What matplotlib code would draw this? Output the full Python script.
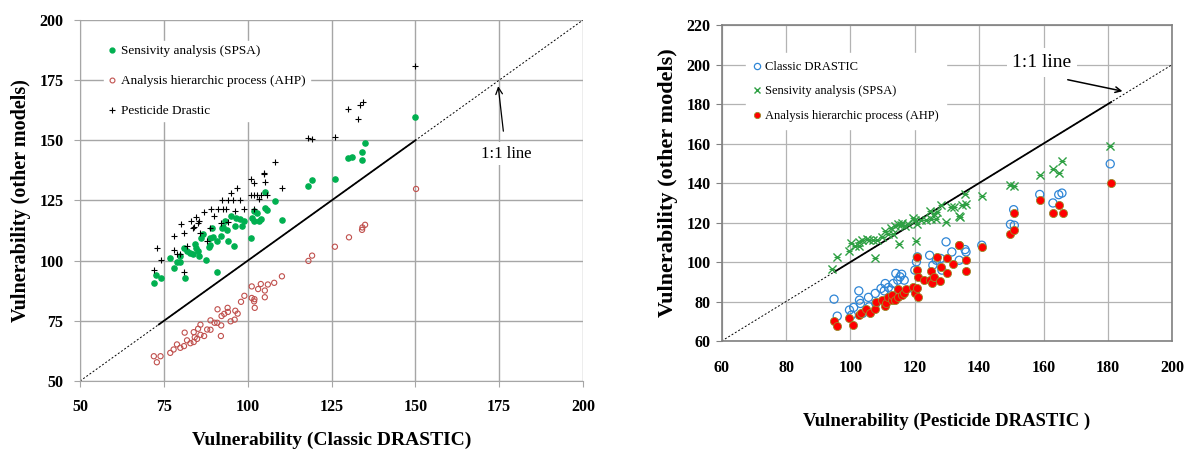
import matplotlib.pyplot as plt
from matplotlib.lines import Line2D

plt.rcParams['font.family'] = ['Liberation Serif', 'DejaVu Serif']

# ---- left panel: other models vs Classic DRASTIC ----
spsa_l_x = [72, 72.7, 74, 76.9, 77.9, 78.9, 79.9, 79.9, 80.9, 81.2, 81.9, 82.7, 83.7, 84.2, 84.7,
            85.2, 85.5, 86.2, 86.7, 87.7, 88.4, 88.9, 89.2, 88.9, 89.7, 90.9, 90.9, 92, 92.2, 92.7,
            93.2, 93.9, 94.1, 95, 96, 96.2, 96.5, 97.7, 98.2, 98.9, 101.1, 101.2, 102, 102, 102.7,
            103.5, 104, 105.1, 105.1, 105.7, 108, 110.2, 118, 119.2, 126, 130, 131, 134, 134, 135, 150]
spsa_l_y = [90.7, 94, 92.6, 101, 97.1, 99.3, 99.3, 102, 105.2, 92.6, 104.2, 103.3, 102.6, 107, 105.4,
            104, 102, 109.3, 111, 100.3, 105.8, 109.3, 113.5, 106.5, 109.7, 95.4, 108, 110.4, 113.5, 113.8,
            116.3, 112.8, 108, 118.7, 106.3, 114.2, 117.7, 117.4, 114.6, 116.3, 109.6, 117.7, 120.5, 116.3, 119.8,
            116.6, 117.4, 128.6, 121.9, 121.2, 124.7, 116.7, 130.9, 133.4, 134.1, 142.5, 143, 142, 145, 149, 159.5]

ahp_l_x = [72, 72.9, 74, 76.9, 77.9, 78.9, 79.9, 81, 81.2, 81.9, 82.9, 83.9, 83.9, 84.2, 84.9,
           85.2, 85.9, 85.9, 87, 87.9, 88.9, 88.9, 90.1, 90.9, 92, 92.1, 92.2, 91, 93, 94,
           94.1, 94.9, 96.1, 96.3, 97, 98, 99, 101.2, 101.2, 101.9, 102.1, 102, 103.1, 103.9, 105.1,
           105.1, 106, 107.9, 110.2, 118.1, 119.2, 126, 130.2, 134.1, 134.2, 135, 150.2]
ahp_l_y = [60.3, 57.8, 60.3, 61.7, 63.1, 65.2, 63.8, 64.5, 70.1, 66.9, 65.7, 70.3, 66.2, 68.2, 67.5,
           71.7, 73.4, 69.2, 68.7, 71.4, 75.2, 71.3, 74.2, 74.2, 68.7, 73.1, 77, 79.8, 77.9, 80.4,
           78.7, 74.8, 75.5, 79.2, 78, 82.9, 85.4, 89.3, 84.5, 83.1, 80.4, 84, 88.2, 90.3, 87.6,
           84.8, 90.1, 90.8, 93.5, 99.9, 102.1, 105.8, 109.7, 112.8, 113.8, 114.9, 129.8]

pest_l_x = [72, 72.9, 74, 78, 78, 78.9, 79.9, 80, 81, 81, 82, 83, 83.7, 84, 84.7, 85.2, 85.5,
            85.9, 87, 88, 88.7, 89, 90, 91, 92, 92.2, 92.7, 93.5, 94.1, 94.2, 94.9, 95.7, 96.2,
            96.9, 97.7, 98.9, 100.9, 101.1, 101.9, 102, 102, 102.9, 103.5, 104, 104.9, 105.1, 105.9,
            105, 108, 110.2, 118.1, 119.2, 126, 130, 133, 133.5, 134.5, 150]
pest_l_y = [96.2, 105.4, 100.1, 110.2, 104.3, 102.9, 102.9, 115.2, 95.1, 111.3, 106.3, 116.6, 113.5,
            113.8, 118, 115.6, 116.3, 111.7, 120.2, 108.2, 113.5, 121.3, 118.5, 121.4, 115.6, 125.2,
            121.4, 121.4, 125.2, 116, 128, 125.2, 120.5, 130.1, 125.2, 121.3, 134.1, 127.2, 132.3,
            127.2, 121.3, 127.2, 125.8, 127.2, 136.2, 132.5, 127.2, 136.5, 141.1, 130.2, 151.1, 150.4,
            151.4, 163, 159, 164.5, 166, 181]

# ---- right panel: other models vs Pesticide DRASTIC ----
classic_r_x = [94.9, 95.9, 99.7, 100.3, 101, 102.6, 102.8, 103.1, 103.8, 105.6, 105.8, 107.7, 107.9,
               109.5, 110.8, 110.5, 111.8, 112.6, 113.3, 114.1, 114.7, 115.4, 115.9, 116.7, 115.1,
               120, 119.8, 120.5, 120.8, 124.6, 125.6, 126.7, 128, 128.4, 129.7, 131.5, 133.8, 135.9,
               135.6, 140.8, 150.7, 149.7, 150.9, 158.8, 162.9, 164.7, 165.7, 180.7]
classic_r_y = [81.2, 72.6, 75.7, 73.1, 77, 85.4, 80.7, 79, 74, 82.1, 77.3, 84.1, 79,
               86.6, 89.1, 85.4, 87.1, 85.8, 89.1, 94.2, 90.8, 92.5, 93.8, 90.8, 83.2,
               95.9, 86.1, 100.1, 102.6, 103.4, 98.4, 100.9, 101.8, 95.9, 110.2, 105.1, 100.9, 105.1,
               106.3, 108.5, 126.5, 119.1, 118.6, 134.2, 129.9, 134.1, 134.9, 149.7]

spsa_r_x = [94.4, 95.9, 99.7, 100.3, 101.5, 102.6, 102.8, 103.6, 105.1, 105.9, 107, 107.7, 108.2,
            109.7, 110.8, 111.8, 112.6, 113.3, 113.8, 114.9, 115.1, 115.7, 116.1, 116.9, 117.9,
            119.5, 120, 120.5, 120.8, 122, 123.6, 124.6, 125.1, 125.9, 126.7, 127, 128, 129.7,
            131.3, 132.1, 133.9, 134.6, 133.8, 135.6, 135.9, 140.8, 149.7, 150.7, 158.8, 162.9,
            164.7, 165.7, 180.7]
spsa_r_y = [96.7, 102.6, 105.6, 109.7, 108, 110.2, 108, 111, 111.9, 111.3, 111, 101.8, 111.3,
            112.7, 115.7, 114.4, 117.4, 114.4, 118.1, 119.4, 109, 118.6, 119.8, 118.1, 119.4,
            122.5, 121.1, 110.7, 119.4, 121.4, 121.1, 125.8, 122, 124.1, 122, 125.3, 128.7, 120.3,
            127.8, 127.8, 122.8, 128.7, 123.3, 134.2, 129.5, 133.6, 139.1, 138.3, 144.3, 147.2,
            145, 150.9, 158.5]

ahp_r_x = [94.9, 95.9, 99.7, 100.7, 102.6, 103.4, 104.8, 106.2, 107.7, 107.9, 109.7, 110.6, 111,
           111.8, 112.8, 112.8, 113.8, 114.7, 114.9, 115.9, 116.7, 117.2, 119.5, 120, 120.8, 120.8,
           121, 120.8, 121, 122.9, 124.6, 124.9, 125.4, 126, 127, 127.8, 128, 130.1, 130.1, 131.8,
           133.8, 135.9, 135.9, 133.8, 140.8, 149.7, 150.7, 150.9, 158.8, 162.9, 164.9, 165.9, 180.8]
ahp_r_y = [70.3, 67.6, 71.4, 67.9, 73.1, 74, 76.3, 74, 76, 79.9, 81, 77.7, 79.4,
           82.4, 81, 83.2, 81, 86.1, 82.4, 83.2, 84.4, 86.1, 87.1, 84.1, 86.6, 96.2,
           92.2, 102.6, 82.1, 91.1, 91.1, 95.5, 89.5, 92.2, 102.6, 90.5, 97.5, 94.5, 101.8, 99.2,
           108.5, 101.2, 95.5, 108.5, 107.6, 114, 116.1, 125, 131.5, 125, 128.7, 125, 140]

grid_col = '#a6a6a6'
tick_font = {'family': 'Liberation Serif', 'weight': 'bold', 'size': 11.5}

fig = plt.figure(figsize=(11.86, 4.5), dpi=100)

# ---------------- left ----------------
ax1 = fig.add_axes([0.0675, 0.1533, 0.4241, 0.8023])
ax1.set_xlim(50, 200)
ax1.set_ylim(50, 200)
ax1.set_xticks(range(50, 201, 25))
ax1.set_yticks(range(50, 201, 25))
ax1.grid(True, color=grid_col, linewidth=1)
ax1.set_axisbelow(True)
for s in ax1.spines.values():
    s.set_visible(False)
ax1.spines['left'].set_visible(True)
ax1.spines['bottom'].set_visible(True)
ax1.spines['left'].set_color(grid_col)
ax1.spines['bottom'].set_color(grid_col)
ax1.tick_params(axis='both', colors=grid_col, length=4)
ax1.tick_params(axis='x', pad=9)
ax1.tick_params(axis='y', pad=8)
for lab in ax1.get_xticklabels() + ax1.get_yticklabels():
    lab.set_fontproperties(tick_font)
    lab.set_color('black')

# 1:1 line: dotted outside the data range, solid inside
ax1.plot([50, 200], [50, 200], color='black', linestyle=(0, (2, 2)), linewidth=0.7)
ax1.plot([73.5, 150], [73.5, 150], color='black', linewidth=1.3)

ax1.scatter(spsa_l_x, spsa_l_y, s=14, color='#00b050', zorder=3)
ax1.scatter(ahp_l_x, ahp_l_y, s=14, facecolors='none', edgecolors='#c0504d', linewidths=0.8, zorder=3)
ax1.scatter(pest_l_x, pest_l_y, s=18, marker='+', color='black', linewidths=0.8, zorder=3)

ax1.set_xlabel('Vulnerability (Classic DRASTIC)', fontsize=14, fontweight='bold', labelpad=12)
ax1.set_ylabel('Vulnerability (other models)', fontsize=14.5, fontweight='bold', labelpad=6)

h1 = [Line2D([], [], marker='o', linestyle='none', markersize=3.5, color='#00b050'),
      Line2D([], [], marker='o', linestyle='none', markersize=3.5, markerfacecolor='none',
             markeredgecolor='#c0504d', markeredgewidth=0.8),
      Line2D([], [], marker='+', linestyle='none', markersize=4.5, color='black', markeredgewidth=0.8)]
leg1 = ax1.legend(h1, ['Sensivity analysis (SPSA)', 'Analysis hierarchic process (AHP)', 'Pesticide Drastic'],
                  loc='upper left', bbox_to_anchor=(0.035, 0.96), frameon=True, fancybox=False,
                  edgecolor='white', framealpha=1, prop={'family': 'Liberation Serif', 'size': 9.5},
                  labelspacing=1.35, handlelength=0.6, handletextpad=0.4, borderpad=0.3)

ax1.annotate('1:1 line', xy=(174.7, 172.5), xytext=(177, 144.5), fontsize=12,
             ha='center', va='center',
             bbox=dict(boxstyle='square,pad=0.2', fc='white', ec='none'),
             arrowprops=dict(arrowstyle='->', color='black', lw=0.9, shrinkA=8, shrinkB=0))

# ---------------- right ----------------
ax2 = fig.add_axes([0.6085, 0.2422, 0.380, 0.7022])
ax2.set_xlim(60, 200)
ax2.set_ylim(60, 220)
ax2.set_xticks(range(60, 201, 20))
ax2.set_yticks(range(60, 221, 20))
ax2.grid(True, color='#b3b3b3', linewidth=0.9)
ax2.set_axisbelow(True)
for s in ax2.spines.values():
    s.set_color('#808080')
    s.set_linewidth(1.2)
ax2.tick_params(axis='both', colors='#808080', length=4)
ax2.tick_params(axis='x', pad=14, length=0)
ax2.tick_params(axis='y', pad=4)
for lab in ax2.get_xticklabels() + ax2.get_yticklabels():
    lab.set_fontproperties(tick_font)
    lab.set_color('black')

ax2.plot([60, 200], [60, 200], color='black', linestyle=(0, (2, 2)), linewidth=0.7)
ax2.plot([95, 181], [95, 181], color='black', linewidth=1.3)

ax2.scatter(classic_r_x, classic_r_y, s=34, facecolors='none', edgecolors='#2f86d6', linewidths=0.9, zorder=3)
ax2.scatter(spsa_r_x, spsa_r_y, s=34, marker='x', color='#2ea043', linewidths=1.0, zorder=3)
ax2.scatter(spsa_r_x, spsa_r_y, s=14, marker='_', color='#2ea043', linewidths=0.8, zorder=3)
ax2.scatter(ahp_r_x, ahp_r_y, s=34, color='#ff0000', edgecolors='#9a8a2a', linewidths=0.6, zorder=4)

ax2.set_xlabel('Vulnerability (Pesticide DRASTIC )', fontsize=13.5, fontweight='bold', labelpad=26)
ax2.set_ylabel('Vulnerability (other models)', fontsize=16, fontweight='bold', labelpad=6)

h2 = [Line2D([], [], marker='o', linestyle='none', markersize=4.5, markerfacecolor='none',
             markeredgecolor='#2f86d6', markeredgewidth=0.9),
      Line2D([], [], marker='x', linestyle='none', markersize=4.5, color='#2ea043', markeredgewidth=1.0),
      Line2D([], [], marker='o', linestyle='none', markersize=4.5, color='#ff0000',
             markeredgecolor='#9a8a2a', markeredgewidth=0.6)]
leg2 = ax2.legend(h2, ['Classic DRASTIC', 'Sensivity analysis (SPSA)', 'Analysis hierarchic process (AHP)'],
                  loc='upper left', bbox_to_anchor=(0.04, 0.93), frameon=True, fancybox=False,
                  edgecolor='white', framealpha=1, prop={'family': 'Liberation Serif', 'size': 9},
                  labelspacing=1.0, handlelength=0.6, handletextpad=0.3, borderpad=0.6)

ax2.text(159.5, 201, '1:1 line', fontsize=14, ha='center', va='center',
         bbox=dict(boxstyle='square,pad=0.3', fc='white', ec='none'))
ax2.annotate('', xy=(184.5, 186.5), xytext=(167.5, 192.3),
             arrowprops=dict(arrowstyle='->', color='black', lw=1.1, shrinkA=0, shrinkB=0))

fig.savefig('out.png', dpi=100, facecolor='white')
